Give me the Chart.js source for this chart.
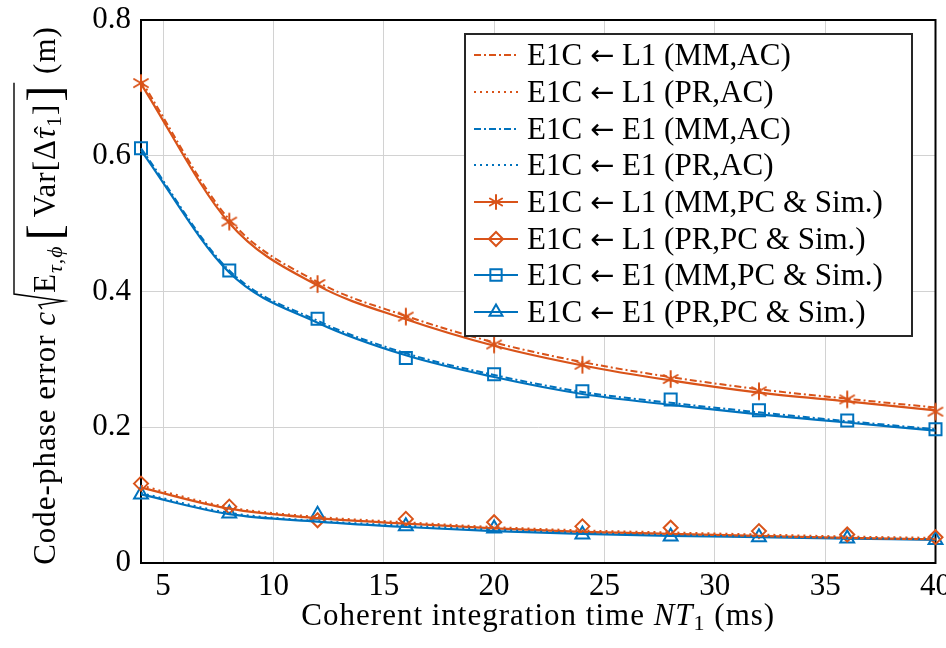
<!DOCTYPE html>
<html>
<head>
<meta charset="utf-8">
<script src="https://cdn.jsdelivr.net/npm/chart.js@4.4.1/dist/chart.umd.min.js"></script>
<style>
html, body { margin: 0; padding: 0; background: #fff; }
#wrap { position: relative; width: 946px; height: 648px; }
#legend {
    position: absolute; left: 464px; top: 33px; width: 449px; height: 304px;
    border: 2px solid #262626; background: #fff; box-sizing: border-box; padding-top: 2px;
    font-family: "Liberation Serif", serif; font-size: 31px; color: #000;
}
.row { display: flex; align-items: center; height: 36.7px; white-space: nowrap; }
.row canvas { margin-left: 7px; margin-right: 8px; }
.arrow { font-family: "DejaVu Sans", sans-serif; font-size: 29px; }
</style>
</head>
<body>
<div id="wrap">
    <canvas id="chart" width="946" height="648"></canvas>
    <div id="legend"></div>
</div>
<script>
// coherent integration time NT1 (ms)
const nt = [4, 8, 12, 16, 20, 24, 28, 32, 36, 40];
const xTicks = [5, 10, 15, 20, 25, 30, 35, 40];
const yTicks = [0, 0.2, 0.4, 0.6, 0.8];
const yTickLabels = ['0', '0.2', '0.4', '0.6', '0.8'];

// analytical curves (AC)
const l1MmAc = [0.711, 0.506, 0.414, 0.364, 0.325, 0.296, 0.274, 0.256, 0.242, 0.229];
const l1PrAc = [0.114, 0.082, 0.068, 0.060, 0.053, 0.048, 0.045, 0.042, 0.039, 0.037];
const e1MmAc = [0.611, 0.431, 0.357, 0.309, 0.277, 0.252, 0.236, 0.222, 0.209, 0.197];
const e1PrAc = [0.103, 0.074, 0.062, 0.055, 0.049, 0.044, 0.041, 0.039, 0.037, 0.035];

// PC curves
const l1MmPc = [0.706, 0.501, 0.409, 0.359, 0.320, 0.291, 0.269, 0.251, 0.238, 0.225];
const l1PrPc = [0.111, 0.080, 0.066, 0.058, 0.051, 0.046, 0.043, 0.040, 0.037, 0.035];
const e1MmPc = [0.608, 0.428, 0.354, 0.306, 0.274, 0.249, 0.233, 0.219, 0.207, 0.195];
const e1PrPc = [0.101, 0.072, 0.061, 0.053, 0.047, 0.043, 0.040, 0.038, 0.036, 0.034];

// simulation points
const l1MmSim = [0.707, 0.503, 0.411, 0.363, 0.322, 0.292, 0.271, 0.253, 0.241, 0.223];
const l1PrSim = [0.117, 0.083, 0.063, 0.065, 0.060, 0.054, 0.052, 0.047, 0.042, 0.038];
const e1MmSim = [0.611, 0.431, 0.360, 0.302, 0.278, 0.253, 0.241, 0.225, 0.210, 0.197];
const e1PrSim = [0.101, 0.073, 0.071, 0.054, 0.051, 0.042, 0.039, 0.038, 0.036, 0.034];

const ORANGE = '#D95319';
const BLUE = '#0072BD';
const DASHDOT = [7, 3, 2, 3];
const DOTTED = [2, 4];
const FONT = '"Liberation Serif", serif';

// 6-armed asterisk marker
function asterisk(color, r) {
    const cv = document.createElement('canvas');
    const s = Math.ceil(r * 2 + 4);
    cv.width = s; cv.height = s;
    const c = cv.getContext('2d');
    c.strokeStyle = color;
    c.lineWidth = 2;
    c.lineCap = 'round';
    for (let k = 0; k < 3; k++) {
        const a = Math.PI / 2 + k * Math.PI / 3;
        c.beginPath();
        c.moveTo(s / 2 + r * Math.cos(a), s / 2 + r * Math.sin(a));
        c.lineTo(s / 2 - r * Math.cos(a), s / 2 - r * Math.sin(a));
        c.stroke();
    }
    return cv;
}
const starMark = asterisk(ORANGE, 8);

const pts = ys => nt.map((x, i) => ({ x: x, y: ys[i] }));

function curve(ys, color, dash, width) {
    return {
        data: pts(ys), borderColor: color, borderWidth: width, borderDash: dash,
        pointRadius: 0, cubicInterpolationMode: 'monotone', fill: false, clip: false
    };
}
function marks(ys, color, style, r) {
    return {
        data: pts(ys), showLine: false, borderColor: color, pointBorderColor: color,
        pointBackgroundColor: 'rgba(0,0,0,0)', pointStyle: style, pointRadius: r,
        pointBorderWidth: 2, clip: false
    };
}

const datasets = [
    curve(l1MmAc, ORANGE, DASHDOT, 2),
    curve(l1PrAc, ORANGE, DOTTED, 2),
    curve(e1MmAc, BLUE, DASHDOT, 2),
    curve(e1PrAc, BLUE, DOTTED, 2),
    curve(l1MmPc, ORANGE, [], 2.2),
    curve(l1PrPc, ORANGE, [], 2.2),
    curve(e1MmPc, BLUE, [], 2.2),
    curve(e1PrPc, BLUE, [], 2.2),
    marks(l1MmSim, ORANGE, starMark, 8),
    marks(l1PrSim, ORANGE, 'rectRot', 7),
    marks(e1MmSim, BLUE, 'rect', 8.5),
    marks(e1PrSim, BLUE, 'triangle', 8)
];

const legendItems = [
    { from: 'L1', tag: '(MM,AC)', color: ORANGE, dash: DASHDOT },
    { from: 'L1', tag: '(PR,AC)', color: ORANGE, dash: DOTTED },
    { from: 'E1', tag: '(MM,AC)', color: BLUE, dash: DASHDOT },
    { from: 'E1', tag: '(PR,AC)', color: BLUE, dash: DOTTED },
    { from: 'L1', tag: '(MM,PC & Sim.)', color: ORANGE, dash: [], mark: 'star', r: 7 },
    { from: 'L1', tag: '(PR,PC & Sim.)', color: ORANGE, dash: [], mark: 'rectRot', r: 7 },
    { from: 'E1', tag: '(MM,PC & Sim.)', color: BLUE, dash: [], mark: 'rect', r: 8 },
    { from: 'E1', tag: '(PR,PC & Sim.)', color: BLUE, dash: [], mark: 'triangle', r: 7.5 }
];

// rich text (subscripts, italics, radical) for the axis titles
function drawRich(ctx, runs, x, y, angle) {
    ctx.save();
    ctx.translate(x, y);
    ctx.rotate(angle);
    ctx.textBaseline = 'alphabetic';
    ctx.textAlign = 'left';
    ctx.letterSpacing = '1px';
    let total = 0;
    runs.forEach(r => {
        if (r.t) { ctx.font = r.f; r.w = ctx.measureText(r.t).width + (r.gap || 0); }
        else if (r.rad) { r.w = r.rad; }
        else { r.w = r.gap || 0; }
        total += r.w;
    });
    let cx = -total / 2;
    let radStart = 0;
    ctx.fillStyle = '#000';
    ctx.strokeStyle = '#000';
    runs.forEach(r => {
        if (r.t) {
            ctx.font = r.f;
            ctx.fillText(r.t, cx, r.dy || 0);
            if (r.hat) {
                ctx.font = '26px ' + FONT;
                ctx.textAlign = 'center';
                ctx.fillText('\u02C6', cx + r.w / 2 + 3, -3);
                ctx.textAlign = 'left';
            }
        } else if (r.rad) {
            radStart = cx;
        } else if (r.radEnd) {
            ctx.beginPath();
            ctx.lineWidth = 1.4;
            ctx.moveTo(radStart + 1, -13);
            ctx.lineTo(radStart + 5, -16);
            ctx.lineTo(radStart + 9, 9);
            ctx.lineTo(radStart + 16, -41);
            ctx.lineTo(cx, -41);
            ctx.stroke();
        }
        cx += r.w;
    });
    ctx.restore();
}

const F = '31px ' + FONT;
const FI = 'italic 31px ' + FONT;
const FS = '22px ' + FONT;
const FSI = 'italic 22px ' + FONT;
const FB = '48px ' + FONT;

const yTitle = [
    { t: 'Code-phase error ', f: F }, { t: 'c', f: FI, gap: 1 }, { rad: 17 },
    { t: 'E', f: F }, { t: '\u03C4,\u03D5', f: FSI, dy: 7, gap: 5 },
    { t: '[', f: FB, dy: 5, gap: 6 }, { t: 'Var', f: F }, { t: '[', f: F },
    { t: '\u0394', f: F }, { t: '\u03C4', f: FI, hat: true }, { t: '1', f: FS, dy: 6 },
    { t: ']', f: F, gap: 2 }, { t: ']', f: FB, dy: 5, gap: 2 }, { radEnd: true, gap: 0 },
    { t: ' (m)', f: F }
];
const xTitle = [
    { t: 'Coherent integration time ', f: F }, { t: 'NT', f: FI },
    { t: '1', f: FS, dy: 5 }, { t: ' (ms)', f: F }
];

const framePlugin = {
    id: 'frame',
    beforeDatasetsDraw(chart) {
        const a = chart.chartArea;
        const ctx = chart.ctx;
        ctx.save();
        ctx.strokeStyle = '#000';
        ctx.lineWidth = 2;
        ctx.strokeRect(a.left, a.top, a.right - a.left, a.bottom - a.top);
        ctx.restore();
    },
    afterDraw(chart) {
        const a = chart.chartArea;
        drawRich(chart.ctx, yTitle, 55, (a.top + a.bottom) / 2 + 4, -Math.PI / 2);
        drawRich(chart.ctx, xTitle, (a.left + a.right) / 2, 625, 0);
    }
};

new Chart(document.getElementById('chart'), {
    type: 'line',
    data: { datasets: datasets },
    options: {
        responsive: false,
        animation: false,
        layout: { padding: { left: 0, right: 7, top: 20, bottom: 0 } },
        plugins: { legend: { display: false }, tooltip: { enabled: false } },
        scales: {
            x: {
                type: 'linear', min: 4, max: 40,
                afterBuildTicks: s => { s.ticks = xTicks.map(v => ({ value: v })); },
                afterFit: s => { s.height = 85; s.paddingLeft = 0; s.paddingRight = 0; },
                ticks: { color: '#000', font: { family: FONT, size: 31 }, padding: 5, maxRotation: 0, callback: v => String(v) },
                grid: { color: '#d2d2d2', lineWidth: 1, drawTicks: false },
                border: { color: '#000', width: 2 }
            },
            y: {
                type: 'linear', min: 0, max: 0.8,
                afterBuildTicks: s => { s.ticks = yTicks.map(v => ({ value: v })); },
                afterFit: s => { s.width = 141; s.paddingTop = 0; s.paddingBottom = 0; },
                ticks: {
                    color: '#000', font: { family: FONT, size: 31 }, padding: 10,
                    callback: v => yTickLabels[yTicks.indexOf(v)]
                },
                grid: { color: '#d2d2d2', lineWidth: 1, drawTicks: false },
                border: { color: '#000', width: 2 }
            }
        }
    },
    plugins: [framePlugin]
});

// legend inside the plot, top right
const legend = document.getElementById('legend');
legendItems.forEach(item => {
    const row = document.createElement('div');
    row.className = 'row';
    const icon = document.createElement('canvas');
    icon.width = 46;
    icon.height = 24;
    const c = icon.getContext('2d');
    c.strokeStyle = item.color;
    c.lineWidth = item.dash.length ? 2 : 2.2;
    c.setLineDash(item.dash);
    c.beginPath();
    c.moveTo(1, 12);
    c.lineTo(45, 12);
    c.stroke();
    c.setLineDash([]);
    if (item.mark === 'star') {
        const m = asterisk(item.color, item.r);
        c.drawImage(m, 23 - m.width / 2, 12 - m.height / 2);
    } else if (item.mark) {
        c.lineWidth = 2;
        c.fillStyle = 'rgba(0,0,0,0)';
        Chart.helpers.drawPoint(c, { pointStyle: item.mark, radius: item.r, borderWidth: 2, rotation: 0 }, 23, 12);
    }
    const label = document.createElement('span');
    label.append('E1C ');
    const arrow = document.createElement('span');
    arrow.className = 'arrow';
    arrow.textContent = '\u2190';
    label.append(arrow);
    label.append(' ' + item.from + ' ' + item.tag);
    row.appendChild(icon);
    row.appendChild(label);
    legend.appendChild(row);
});
</script>
</body>
</html>
